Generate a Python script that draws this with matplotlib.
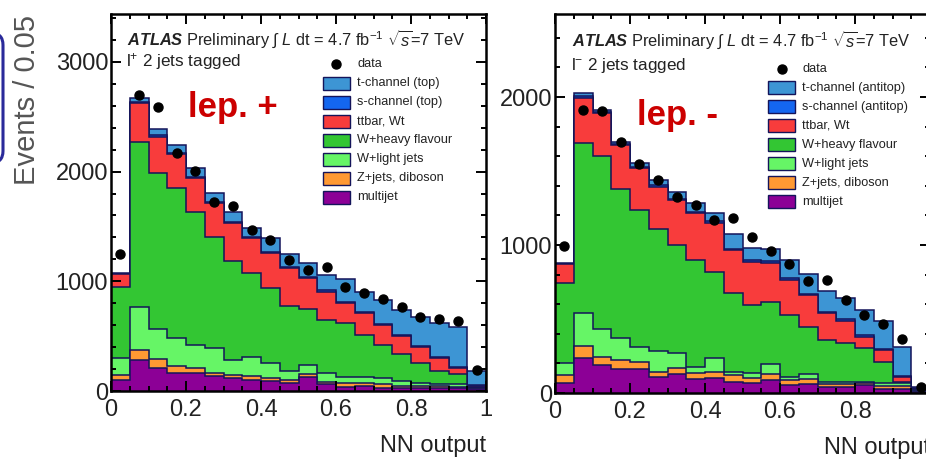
import numpy as np
import matplotlib
matplotlib.use("Agg")
import matplotlib.pyplot as plt
from matplotlib.patches import Rectangle, FancyBboxPatch
from matplotlib.ticker import MultipleLocator, FuncFormatter

plt.rcParams["font.family"] = ["Liberation Sans", "DejaVu Sans"]
plt.rcParams["mathtext.fontset"] = "custom"
plt.rcParams["mathtext.rm"] = "Liberation Sans"
plt.rcParams["mathtext.it"] = "Liberation Sans:italic"
plt.rcParams["mathtext.bf"] = "Liberation Sans:bold:italic"

# NN output binning, 20 bins of 0.05
bin_edges = np.arange(21) * 0.05

# l+ channel, events per bin (stack order bottom -> top)
plus_multijet = [100, 283, 207, 161, 165, 137, 116, 100, 94, 72, 131, 64, 36, 45, 30, 30, 25, 25, 25, 15]
plus_zjets = [46, 91, 81, 69, 42, 28, 34, 35, 25, 31, 24, 21, 34, 31, 34, 20, 20, 20, 15, 10]
plus_wlight = [152, 391, 275, 255, 216, 230, 134, 178, 133, 83, 85, 80, 57, 52, 54, 40, 28, 19, 24, 5]
plus_wheavy = [653, 1505, 1424, 1365, 1209, 1009, 901, 760, 684, 590, 510, 482, 493, 387, 302, 250, 179, 116, 89, 10]
plus_ttbar = [116, 352, 331, 308, 307, 307, 344, 322, 319, 342, 277, 258, 179, 193, 182, 161, 146, 118, 54, 10]
plus_schan = [0, 13, 12, 12, 11, 11, 11, 10, 12, 12, 13, 13, 13, 14, 13, 13, 12, 12, 11, 8]
plus_tchan = [5, 36, 58, 73, 83, 86, 94, 78, 125, 119, 124, 137, 210, 183, 215, 224, 262, 307, 363, 122]
plus_data = [1250, 2700, 2586, 2167, 2005, 1726, 1686, 1470, 1375, 1190, 1103, 1130, 951, 896, 836, 763, 677, 654, 638, 191]

# l- channel
minus_multijet = [70, 234, 189, 160, 160, 110, 128, 92, 99, 76, 70, 88, 54, 61, 43, 43, 54, 25, 25, 10]
minus_zjets = [52, 84, 56, 63, 51, 34, 39, 41, 45, 46, 29, 40, 34, 34, 17, 17, 11, 20, 20, 5]
minus_wlight = [78, 220, 185, 146, 98, 142, 101, 45, 90, 22, 34, 68, 22, 33, 16, 16, 11, 20, 20, 5]
minus_wheavy = [540, 1149, 1171, 1007, 927, 824, 732, 721, 586, 530, 462, 421, 417, 320, 282, 260, 226, 146, 11, 5]
minus_ttbar = [135, 308, 289, 300, 282, 284, 304, 315, 331, 292, 292, 263, 237, 214, 180, 152, 78, 80, 34, 5]
minus_schan = [0, 10, 8, 8, 10, 10, 10, 10, 10, 10, 10, 10, 10, 10, 10, 10, 10, 9, 8, 3]
minus_tchan = [3, 24, 14, 14, 28, 35, 46, 57, 53, 96, 80, 80, 125, 132, 143, 142, 171, 188, 195, 10]
minus_data = [993, 1912, 1907, 1698, 1547, 1439, 1327, 1270, 1169, 1180, 1052, 961, 872, 759, 764, 628, 527, 466, 363, 43]

stack_colors = ["#8c0096", "#ff9933", "#66f566", "#33c633", "#f83c3c", "#1466f0", "#3d95d4"]
edge_col = "#14145a"

legend_plus = ["t-channel (top)", "s-channel (top)", "ttbar, Wt", "W+heavy flavour",
               "W+light jets", "Z+jets, diboson", "multijet"]
legend_minus = ["t-channel (antitop)", "s-channel (antitop)", "ttbar, Wt", "W+heavy flavour",
                "W+light jets", "Z+jets, diboson", "multijet"]

fig = plt.figure(figsize=(9.26, 4.62), dpi=100)
fig.patch.set_facecolor("white")

ax1 = fig.add_axes([111 / 926, 71 / 462, 375 / 926, 377 / 462])
ax2 = fig.add_axes([555 / 926, 69 / 462, 375 / 926, 379 / 462])


def tick_fmt(v, pos):
    return f"{v:g}"


def draw_stack(ax, comps, data, ymax, show_one=True):
    tops = np.cumsum(np.array(comps, dtype=float), axis=0)
    # ROOT-style: each layer drawn from zero, top layer first
    for top, col in reversed(list(zip(tops, stack_colors))):
        ax.stairs(top, bin_edges, baseline=0, fill=True, facecolor=col,
                  edgecolor=edge_col, linewidth=1.1)
    centers = 0.5 * (bin_edges[:-1] + bin_edges[1:])
    ax.plot(centers, data, "o", color="black", ms=6.5, zorder=4)

    ax.set_xlim(0, 1)
    ax.set_ylim(0, ymax)
    ax.xaxis.set_major_locator(MultipleLocator(0.2))
    ax.xaxis.set_minor_locator(MultipleLocator(0.05))
    ax.yaxis.set_major_locator(MultipleLocator(1000))
    ax.yaxis.set_minor_locator(MultipleLocator(200))
    if show_one:
        ax.xaxis.set_major_formatter(FuncFormatter(tick_fmt))
    else:
        # the right frame runs off the page, so its "1" is not shown
        ax.xaxis.set_major_formatter(FuncFormatter(lambda v, p: "" if v > 0.99 else f"{v:g}"))
    ax.tick_params(which="both", direction="in", top=True, right=True,
                   width=1.4, labelsize=17, labelcolor="#222222")
    ax.tick_params(which="major", length=7.5)
    ax.tick_params(which="minor", length=3.8)
    ax.tick_params(axis="y", pad=2)
    ax.tick_params(axis="x", pad=5.5)
    for sp in ax.spines.values():
        sp.set_linewidth(1.8)
    ax.text(1.0, -0.145, "NN output", transform=ax.transAxes, ha="right",
            va="center", fontsize=17, color="#222222")


def draw_legend(ax, x0, tx, y0, dy, labels):
    ax.plot([x0 + 0.036], [y0], "o", color="black", ms=6.5,
            transform=ax.transAxes, clip_on=False, zorder=5)
    ax.text(tx, y0, "data", transform=ax.transAxes, va="center",
            fontsize=9.2, color="#222222")
    cols = list(reversed(stack_colors))
    for i, (lab, col) in enumerate(zip(labels, cols)):
        y = y0 - (i + 1) * dy
        ax.add_patch(Rectangle((x0, y - 0.017), 0.072, 0.034, transform=ax.transAxes,
                               facecolor=col, edgecolor=edge_col, linewidth=1.0,
                               zorder=5))
        ax.text(tx, y, lab, transform=ax.transAxes, va="center", fontsize=9.2,
                color="#222222")


def draw_header(ax, x, y, y2, lep):
    ax.text(x, y, r"$\mathbf{ATLAS}$ Preliminary $\int$ $L$ dt = 4.7 fb$^{-1}$ $\sqrt{s}$=7 TeV",
            transform=ax.transAxes, fontsize=11.8, color="#222222", va="baseline")
    ax.text(x - 0.003, y2, "l$^{" + lep + "}$ 2 jets tagged", transform=ax.transAxes,
            fontsize=12.3, color="#222222", va="baseline")


draw_stack(ax1, [plus_multijet, plus_zjets, plus_wlight, plus_wheavy,
                 plus_ttbar, plus_schan, plus_tchan], plus_data, 3437)
draw_stack(ax2, [minus_multijet, minus_zjets, minus_wlight, minus_wheavy,
                 minus_ttbar, minus_schan, minus_tchan], minus_data, 2561,
           show_one=False)

draw_legend(ax1, 0.565, 0.656, 0.867, 0.0504, legend_plus)
draw_legend(ax2, 0.568, 0.659, 0.855, 0.0500, legend_minus)

draw_header(ax1, 0.043, 0.915, 0.862, "+")
draw_header(ax2, 0.045, 0.913, 0.852, "-")

ax1.text(0.205, 0.727, "lep. +", transform=ax1.transAxes, color="#cc0000",
         fontsize=25, fontweight="bold", va="baseline")
ax2.text(0.219, 0.707, "lep. -", transform=ax2.transAxes, color="#cc0000",
         fontsize=25, fontweight="bold", va="baseline")

fig.text(27 / 926, 1 - 100 / 462, "Events / 0.05", rotation=90, ha="center",
         va="center", fontsize=21, color="#555555")

# edge of the slide box on the far left
fig.add_artist(FancyBboxPatch((-0.6, 2.99), 0.63, 1.30,
                              boxstyle="round,pad=0,rounding_size=0.12",
                              transform=fig.dpi_scale_trans, facecolor="none",
                              edgecolor="#2a2a9a", linewidth=2.2))

fig.savefig("out.png", dpi=100)
